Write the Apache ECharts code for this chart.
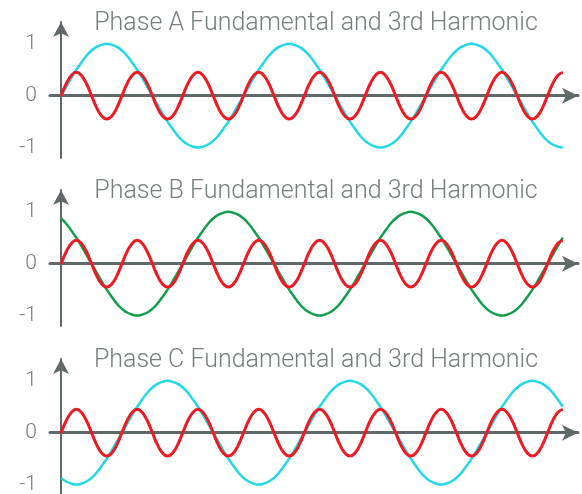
<!DOCTYPE html>
<html><head><meta charset="utf-8">
<script src="https://cdn.jsdelivr.net/npm/echarts@6/dist/echarts.min.js"></script>
<style>html,body{margin:0;padding:0;background:#fff}#c{width:582px;height:494px}</style>
</head><body><div id="c"></div>
<script>
const titles = ['Phase A Fundamental and 3rd Harmonic', 'Phase B Fundamental and 3rd Harmonic', 'Phase C Fundamental and 3rd Harmonic'];
const tickLabels = [-1, 0, 1];
const stepDeg = 10; // sample spacing along x, in electrical degrees
const phaseA = [0,.17,.34,.5,.64,.77,.87,.94,.98,1,.98,.94,.87,.77,.64,.5,.34,.17,0,-.17,-.34,-.5,-.64,-.77,-.87,-.94,-.98,-1,-.98,-.94,-.87,-.77,-.64,-.5,-.34,-.17,
  0,.17,.34,.5,.64,.77,.87,.94,.98,1,.98,.94,.87,.77,.64,.5,.34,.17,0,-.17,-.34,-.5,-.64,-.77,-.87,-.94,-.98,-1,-.98,-.94,-.87,-.77,-.64,-.5,-.34,-.17,
  0,.17,.34,.5,.64,.77,.87,.94,.98,1,.98,.94,.87,.77,.64,.5,.34,.17,0,-.17,-.34,-.5,-.64,-.77,-.87,-.94,-.98,-1];
const phaseB = [.87,.77,.64,.5,.34,.17,0,-.17,-.34,-.5,-.64,-.77,-.87,-.94,-.98,-1,-.98,-.94,-.87,-.77,-.64,-.5,-.34,-.17,
  0,.17,.34,.5,.64,.77,.87,.94,.98,1,.98,.94,.87,.77,.64,.5,.34,.17,0,-.17,-.34,-.5,-.64,-.77,-.87,-.94,-.98,-1,-.98,-.94,-.87,-.77,-.64,-.5,-.34,-.17,
  0,.17,.34,.5,.64,.77,.87,.94,.98,1,.98,.94,.87,.77,.64,.5,.34,.17,0,-.17,-.34,-.5,-.64,-.77,-.87,-.94,-.98,-1,-.98,-.94,-.87,-.77,-.64,-.5,-.34,-.17,
  0,.17,.34,.5];
const phaseC = [-.87,-.94,-.98,-1,-.98,-.94,-.87,-.77,-.64,-.5,-.34,-.17,
  0,.17,.34,.5,.64,.77,.87,.94,.98,1,.98,.94,.87,.77,.64,.5,.34,.17,0,-.17,-.34,-.5,-.64,-.77,-.87,-.94,-.98,-1,-.98,-.94,-.87,-.77,-.64,-.5,-.34,-.17,
  0,.17,.34,.5,.64,.77,.87,.94,.98,1,.98,.94,.87,.77,.64,.5,.34,.17,0,-.17,-.34,-.5,-.64,-.77,-.87,-.94,-.98,-1,-.98,-.94,-.87,-.77,-.64,-.5,-.34,-.17,
  0,.17,.34,.5,.64,.77,.87,.94,.98,1,.98,.94,.87,.77,.64,.5];
const harmonic = [0,.23,.39,.45,.39,.23,0,-.23,-.39,-.45,-.39,-.23, 0,.23,.39,.45,.39,.23,0,-.23,-.39,-.45,-.39,-.23,
  0,.23,.39,.45,.39,.23,0,-.23,-.39,-.45,-.39,-.23, 0,.23,.39,.45,.39,.23,0,-.23,-.39,-.45,-.39,-.23,
  0,.23,.39,.45,.39,.23,0,-.23,-.39,-.45,-.39,-.23, 0,.23,.39,.45,.39,.23,0,-.23,-.39,-.45,-.39,-.23,
  0,.23,.39,.45,.39,.23,0,-.23,-.39,-.45,-.39,-.23, 0,.23,.39,.45,.39,.23,0,-.23,-.39,-.45,-.39,-.23,
  0,.23,.39,.45];

const fundamentals = [phaseA, phaseB, phaseC];
const fundColors = ['#22d8e6', '#129e4c', '#22d8e6'];
const harmColor = '#ec1b23';
const axisColor = '#5f6969';
const textColor = '#757d7d';
const gridTops = [22, 190, 359];
const titleTops = [6, 174, 343];

const toPairs = arr => arr.map((v, i) => [i * stepDeg, v]);

const option = {
  animation: false,
  backgroundColor: '#fff',
  title: titles.map((t, i) => ({
    text: t, left: 311, top: titleTops[i], textAlign: 'center',
    textStyle: { fontFamily: 'Roboto', fontWeight: 300, fontSize: 25, color: textColor }
  })),
  grid: gridTops.map(t => ({ left: 50, right: 4, top: t, height: 136, outerBoundsMode: 'none', containLabel: false })),
  xAxis: gridTops.map((t, i) => ({
    type: 'value', gridIndex: i, min: -22, max: 1020,
    axisLine: { onZero: true, symbol: ['none', 'arrow'], symbolSize: [12, 16], lineStyle: { color: axisColor, width: 3 } },
    axisTick: { show: false }, axisLabel: { show: false }, splitLine: { show: false }
  })),
  yAxis: gridTops.map((t, i) => ({
    type: 'value', gridIndex: i, min: -1.2, max: 1.42, position: 'left', offset: -11,
    axisLine: { show: true, onZero: false, symbol: ['none', 'arrow'], symbolSize: [12, 15], lineStyle: { color: axisColor, width: 2 } },
    axisTick: { show: false }, splitLine: { show: false },
    axisLabel: { customValues: tickLabels, margin: 24, fontSize: 21, fontFamily: 'Roboto', fontWeight: 300, color: textColor,
      formatter: v => String(v) }
  })),
  series: []
};
fundamentals.forEach((f, i) => {
  option.series.push({ type: 'line', xAxisIndex: i, yAxisIndex: i, data: toPairs(f), smooth: true, symbol: 'none',
    lineStyle: { color: fundColors[i], width: 2.5 }, z: 2 });
  option.series.push({ type: 'line', xAxisIndex: i, yAxisIndex: i, data: toPairs(harmonic), smooth: true, symbol: 'none',
    lineStyle: { color: harmColor, width: 3 }, z: 3 });
});
const chart = echarts.init(document.getElementById('c'), null, { renderer: 'canvas' });
chart.setOption(option);
</script></body></html>
